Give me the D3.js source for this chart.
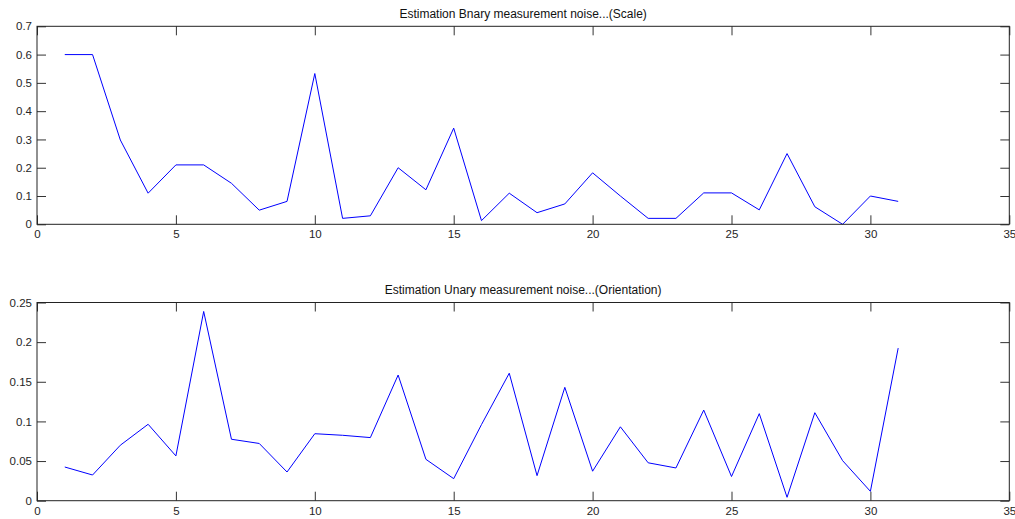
<!DOCTYPE html>
<html>
<head>
<meta charset="utf-8">
<script src="https://cdn.jsdelivr.net/npm/d3@7"></script>
<style>
  html, body { margin: 0; padding: 0; background: #fff; }
  svg { display: block; }
  text { font-family: "Liberation Sans", Arial, Helvetica, sans-serif; }
</style>
</head>
<body>
<svg id="fig" width="1015" height="519"></svg>
<script>
// Iteration index (1..31)
const iterations = d3.range(1, 32);

// Estimated binary measurement noise (scale)
const binaryScaleNoise = [
  0.60, 0.60, 0.298, 0.11, 0.21, 0.21, 0.145, 0.05, 0.081, 0.533,
  0.021, 0.03, 0.20, 0.122, 0.34, 0.013, 0.11, 0.041, 0.072, 0.182,
  0.10, 0.021, 0.021, 0.111, 0.111, 0.051, 0.25, 0.062, 0.0, 0.10,
  0.081
];

// Estimated unary measurement noise (orientation)
const unaryOrientNoise = [
  0.0425, 0.0324, 0.070, 0.0964, 0.0565, 0.2387, 0.0775, 0.0722, 0.0362, 0.0845,
  0.0825, 0.0796, 0.1585, 0.0522, 0.0278, 0.096, 0.1608, 0.0316, 0.1430, 0.0372,
  0.0932, 0.0478, 0.0413, 0.1143, 0.0305, 0.1098, 0.0043, 0.1110, 0.0505, 0.0118,
  0.1925
];

// Axis ticks
const xTicks = [0, 5, 10, 15, 20, 25, 30, 35];
const yTicksTop = [0, 0.1, 0.2, 0.3, 0.4, 0.5, 0.6, 0.7];
const yTicksBottom = [0, 0.05, 0.1, 0.15, 0.2, 0.25];

const titles = [
  "Estimation Bnary measurement noise...(Scale)",
  "Estimation Unary measurement noise...(Orientation)"
];

const svg = d3.select("#fig");
const fmt = d3.format("~g");
const tickLen = 9;

const panels = [
  { values: binaryScaleNoise, yTicks: yTicksTop, yMax: 0.7, top: 26.3, bottom: 224.3, title: titles[0] },
  { values: unaryOrientNoise, yTicks: yTicksBottom, yMax: 0.25, top: 302.5, bottom: 500.7, title: titles[1] }
];

const left = 37, right = 1009.3;
const x = d3.scaleLinear().domain([0, 35]).range([left, right]);

panels.forEach(p => {
  const y = d3.scaleLinear().domain([0, p.yMax]).range([p.bottom, p.top]);
  const g = svg.append("g");

  // data line
  const line = d3.line().x((d, i) => x(iterations[i])).y(d => y(d));
  g.append("path")
    .datum(p.values)
    .attr("fill", "none")
    .attr("stroke", "#0000ff")
    .attr("stroke-width", 1)
    .attr("d", line);

  const styleAxis = sel => {
    sel.select(".domain").remove();
    sel.selectAll(".tick line").attr("stroke", "#333");
    sel.selectAll(".tick text")
      .attr("fill", "#262626")
      .style("font-size", "11.5px");
  };

  // bottom axis with labels, ticks pointing inward
  g.append("g")
    .attr("transform", `translate(0,${p.bottom})`)
    .call(d3.axisBottom(x).tickValues(xTicks).tickFormat(fmt).tickSize(-tickLen).tickPadding(6))
    .call(styleAxis);
  // top axis, ticks only
  g.append("g")
    .attr("transform", `translate(0,${p.top})`)
    .call(d3.axisTop(x).tickValues(xTicks).tickFormat("").tickSize(-tickLen))
    .call(styleAxis);
  // left axis with labels
  g.append("g")
    .attr("transform", `translate(${left},0)`)
    .call(d3.axisLeft(y).tickValues(p.yTicks).tickFormat(fmt).tickSize(-tickLen).tickPadding(5))
    .call(styleAxis);
  // right axis, ticks only
  g.append("g")
    .attr("transform", `translate(${right},0)`)
    .call(d3.axisRight(y).tickValues(p.yTicks).tickFormat("").tickSize(-tickLen))
    .call(styleAxis);

  // axes box
  g.append("rect")
    .attr("x", left).attr("y", p.top)
    .attr("width", right - left).attr("height", p.bottom - p.top)
    .attr("fill", "none")
    .attr("stroke", "#222")
    .attr("stroke-width", 1);

  // title
  g.append("text")
    .attr("x", (left + right) / 2)
    .attr("y", p.top - 8.5)
    .attr("text-anchor", "middle")
    .attr("fill", "#111")
    .style("font-size", "12px")
    .text(p.title);
});
</script>
</body>
</html>
